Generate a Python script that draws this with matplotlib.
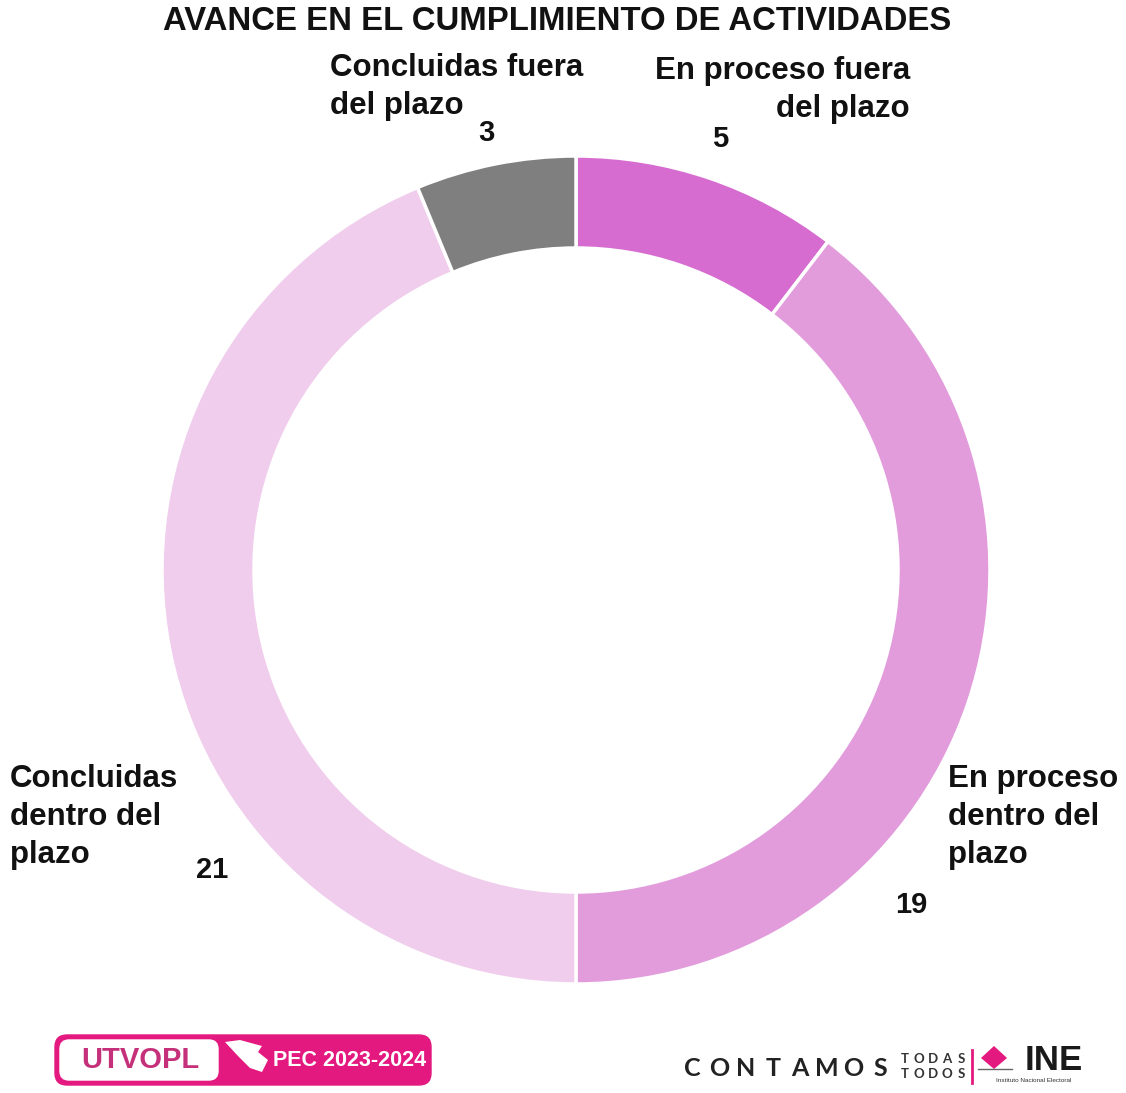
import matplotlib
matplotlib.use("Agg")
import matplotlib.pyplot as plt
from matplotlib.patches import FancyBboxPatch, Polygon

plt.rcParams['font.family'] = ['Liberation Sans', 'DejaVu Sans']

title = "AVANCE EN EL CUMPLIMIENTO DE ACTIVIDADES"
categories = ["En proceso fuera\ndel plazo", "En proceso\ndentro del\nplazo",
              "Concluidas\ndentro del\nplazo", "Concluidas fuera\ndel plazo"]
values = [5, 19, 21, 3]
colors = ["#D66CD0", "#E29CDC", "#F0CDEC", "#7F7F7F"]

W, H = 1126, 1093
fig = plt.figure(figsize=(W / 100, H / 100), dpi=100)
ax = fig.add_axes([0, 0, 1, 1])

def Y(y):
    return H - y

cx, cy, R = 576, 570, 414
ax.pie(values, colors=colors, startangle=90, counterclock=False,
       center=(cx, Y(cy)), radius=R, frame=True,
       wedgeprops=dict(width=92, edgecolor="white", linewidth=2.5))
ax.set_xlim(0, W)
ax.set_ylim(0, H)
ax.set_aspect("auto")
ax.axis("off")

fs = 22.5
ax.text(557, Y(22), title, ha="center", va="center", fontsize=23.7, fontweight="bold", color="#111111")

# category labels
lab_pos = [(910, 90, "right"), (948, 817, "left"), (10, 817, "left"), (330, 87, "left")]
num_pos = [(720, 139), (911, 905), (212, 870), (486, 133)]
for cat, v, (lx, ly, ha), (nx, ny) in zip(categories, values, lab_pos, num_pos):
    ax.text(lx, Y(ly), cat, ha=ha, va="center", fontsize=fs, fontweight="bold",
            color="#111111", linespacing=1.36, multialignment=ha)
    ax.text(nx, Y(ny), str(v), ha="center", va="center", fontsize=21,
            fontweight="bold", color="#111111")

# UTVOPL logo
pink = "#E3197F"
ax.add_patch(FancyBboxPatch((55, Y(1085)), 376, 50, boxstyle="round,pad=0,rounding_size=12",
                            fc=pink, ec=pink, lw=1))
ax.add_patch(FancyBboxPatch((60, Y(1080)), 158, 40, boxstyle="round,pad=0,rounding_size=9",
                            fc="white", ec="white", lw=1))
ax.text(140, Y(1060), "UTVOPL", ha="center", va="center", fontsize=21, fontweight="bold", color="#C4307A")
ax.add_patch(Polygon([(225, Y(1042)), (240, Y(1040)), (262, Y(1046)), (258, Y(1052)),
                      (268, Y(1060)), (262, Y(1072)), (250, Y(1068)), (238, Y(1056))],
                     closed=True, fc="white", ec="none"))
ax.text(350, Y(1060), "PEC 2023-2024", ha="center", va="center", fontsize=15.5, fontweight="bold", color="white")

# CONTAMOS logo
word = "CONTAMOS"
for i, ch in enumerate(word):
    ax.text(692 + i * 26.9, Y(1068), ch, ha="center", va="center", fontsize=18,
            fontweight="bold", color="#222222", family=["Lato", "DejaVu Sans"])
for j, w in enumerate(["TODAS", "TODOS"]):
    for i, ch in enumerate(w):
        ax.text(905 + i * 14, Y(1059 + j * 15), ch, ha="center", va="center", fontsize=9.5,
                fontweight="bold", color="#333333", family=["Lato", "DejaVu Sans"])
ax.plot([972, 972], [Y(1050), Y(1083)], color=pink, lw=2)
ax.add_patch(Polygon([(994, Y(1046)), (1007, Y(1058)), (994, Y(1069)), (981, Y(1058))],
                     closed=True, fc=pink, ec="none"))
ax.plot([978, 1012], [Y(1069), Y(1069)], color="#666666", lw=1.0)
ax.text(1054, Y(1060), "INE", ha="center", va="center", fontsize=25, fontweight="bold", color="#1a1a1a")
ax.text(1034, Y(1081), "Instituto Nacional Electoral", ha="center", va="center", fontsize=4.6, color="#333333")

fig.savefig("out.png", dpi=100, facecolor="white")
